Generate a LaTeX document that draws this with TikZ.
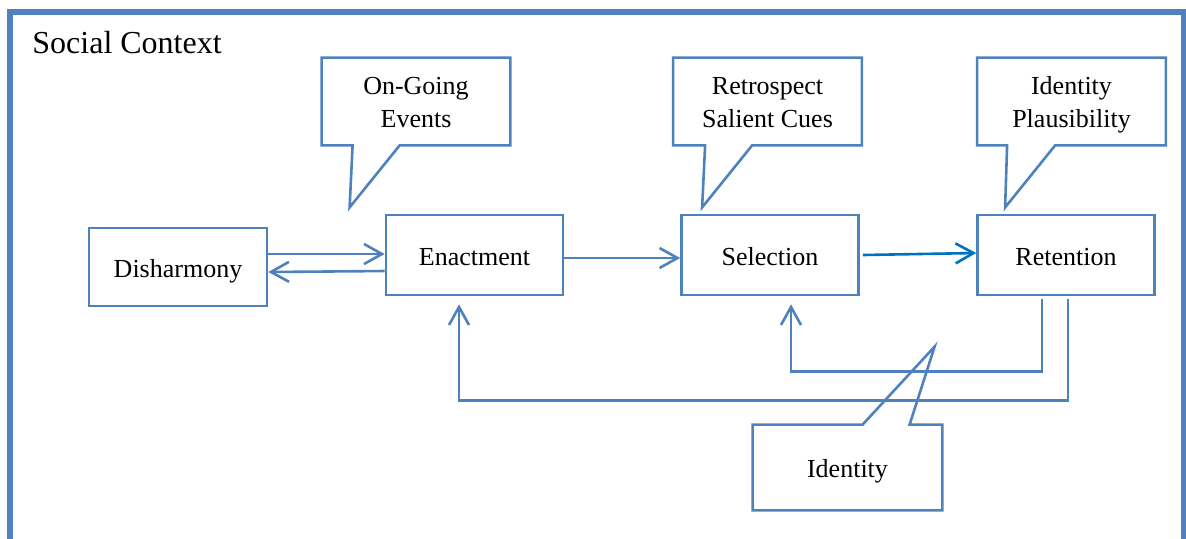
\documentclass[tikz,border=0pt]{standalone}
\usepackage{fontspec}
\setmainfont{Liberation Serif}
\usetikzlibrary{arrows.meta,calc,positioning}
\definecolor{boxblue}{HTML}{4F81BD}
\definecolor{arrblue}{HTML}{0070C0}

\begin{document}
\begin{tikzpicture}[x=0.5pt,y=-0.5pt,
    stage/.style={draw=boxblue,line width=1.3pt,minimum width=88.5pt,minimum height=40pt,
      inner sep=0pt,text height=12pt,text depth=2pt,font=\fontsize{13}{15.5}\selectfont},
    note/.style={minimum width=94pt,minimum height=43.5pt,inner sep=0pt,align=center,
      text height=28pt,text depth=2.5pt,font=\fontsize{13}{16.5}\selectfont},
    outline/.style={draw=boxblue,line width=1.3pt,line join=miter},
    arr/.style={draw=boxblue,line width=1.3pt,-{Straight Barb[length=9pt,width=10pt]}}]
  \clip (0,0) rectangle (1186,538);
  % frame
  \draw[boxblue,line width=2.8pt] (10,560) -- (10,12) -- (1184,12) -- (1184,560);
  \node[anchor=base west,inner sep=0pt,font=\fontsize{16}{19}\selectfont] (ctx) at (32,53) {Social Context};

  % stages
  \node[stage,minimum width=89pt,minimum height=39pt] (dis) at (178,267) {Disharmony};
  \node[stage] (enact) at (474.5,255) {Enactment};
  \node[stage] (sel) at (770,255) {Selection};
  \node[stage] (ret) at (1066,255) {Retention};

  % callouts
  \node[note] (ong) at (416,101.5) {On-Going\\Events};
  \draw[outline] (ong.south west) -- (ong.north west) -- (ong.north east) -- (ong.south east)
    -- ($(ong.south west)+(78,0)$) -- ($(ong.south west)+(28,62)$) -- ($(ong.south west)+(31,0)$) -- cycle;
  \node[note] (cues) at (767.5,101.5) {Retrospect\\Salient Cues};
  \draw[outline] (cues.south west) -- (cues.north west) -- (cues.north east) -- (cues.south east)
    -- ($(cues.south west)+(79,0)$) -- ($(cues.south west)+(29,62)$) -- ($(cues.south west)+(32,0)$) -- cycle;
  \node[note] (plaus) at (1071.5,101.5) {Identity\\Plausibility};
  \draw[outline] (plaus.south west) -- (plaus.north west) -- (plaus.north east) -- (plaus.south east)
    -- ($(plaus.south west)+(78,0)$) -- ($(plaus.south west)+(28,62)$) -- ($(plaus.south west)+(30,0)$) -- cycle;
  \node[note,minimum width=94.5pt,minimum height=42.5pt,text height=12pt,text depth=2pt] (iden) at (847.5,467.5) {Identity};

  % connectors
  \draw[arr] ($(dis.east)+(0,-13)$) -- ($(enact.west)+(0,-1)$);
  \draw[arr] ($(enact.west)+(0,16)$) -- ($(dis.east)+(0,5)$);
  \draw[arr] ($(enact.east)+(0,3)$) -- ($(sel.west)+(0,3)$);
  \draw[arr,draw=arrblue] ($(sel.east)+(3,0)$) -- ($(ret.west)+(0,-2)$);
  \draw[arr] ($(ret.south)+(-24,3)$) -- ++(0,72) -| ($(sel.south)+(21,8)$);
  \draw[arr] ($(ret.south)+(2,3)$) -- ++(0,101) -| ($(enact.south)+(-15.5,8)$);

  \draw[outline] (iden.north west) -- ($(iden.north west)+(110,0)$) -- ($(iden.north west)+(182,-78)$)
    -- ($(iden.north west)+(157,0)$) -- (iden.north east) -- (iden.south east) -- (iden.south west) -- cycle;
\end{tikzpicture}
\end{document}
